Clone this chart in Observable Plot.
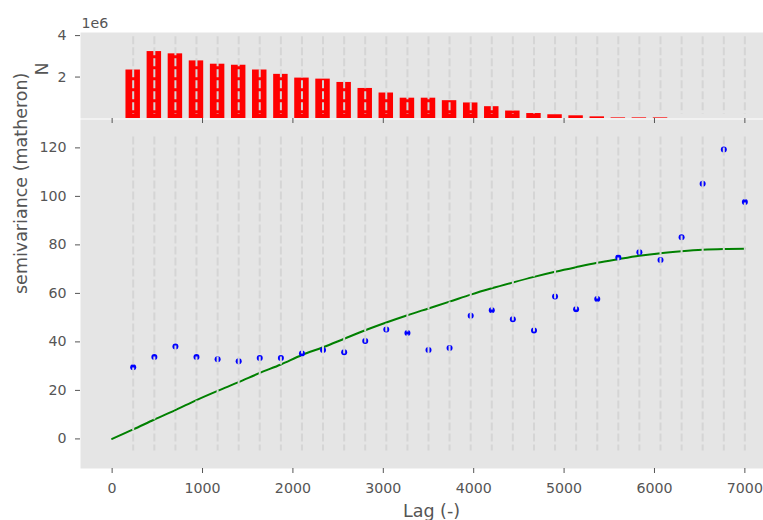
<!DOCTYPE html>
<html><head><meta charset="utf-8">
<script src="https://cdn.jsdelivr.net/npm/d3@7"></script>
<script src="https://cdn.jsdelivr.net/npm/@observablehq/plot@0.6"></script>
<style>
html,body{margin:0;padding:0;background:#fff;overflow:hidden;}
#wrap{position:relative;width:763px;height:520px;overflow:hidden;}
#wrap svg{position:absolute;left:0;overflow:visible;background:transparent;max-width:none !important;}
</style></head><body><div id="wrap"></div>
<script>
// lag class centres
const lags = [233,467,700,933,1167,1400,1633,1867,2100,2333,2567,2800,3033,3267,3500,3733,3967,4200,4433,4667,4900,5133,5367,5600,5833,6067,6300,6533,6767,7000];
// number of point pairs per lag class (in units of 1e6)
const pairCounts = [2.34,3.23,3.12,2.78,2.62,2.57,2.34,2.13,1.95,1.90,1.74,1.45,1.23,0.98,0.98,0.86,0.75,0.57,0.36,0.24,0.18,0.13,0.08,0.03,0.03,0.03,0,0,0,0];
// experimental semivariance (matheron)
const semivariance = [29.5,33.8,38.1,33.8,32.8,32.0,33.4,33.4,35.2,36.7,35.7,40.4,45.1,43.7,36.7,37.5,50.8,53.0,49.3,44.7,58.7,53.5,57.7,74.8,77.0,73.8,83.1,105.2,119.3,97.7];
// fitted model
const modelLags = [0,233,467,700,933,1167,1400,1633,1867,2100,2333,2567,2800,3033,3267,3500,3733,3967,4200,4433,4667,4900,5133,5367,5600,5833,6067,6300,6533,6767,7000];
const modelValues = [0,3.9,8.0,11.9,16.0,19.8,23.4,27.2,30.7,34.6,37.8,41.3,44.8,48.0,51.0,53.8,56.6,59.5,62.1,64.5,66.8,68.9,70.8,72.6,74.1,75.5,76.6,77.4,78.0,78.3,78.4];
// tick labels
const xTicks = [0,1000,2000,3000,4000,5000,6000,7000];
const yTicks = [0,20,40,60,80,100,120];
const nTicks = [2,4];

const bars = lags.map((lag, i) => ({lag, n: pairCounts[i]}));
const points = lags.map((lag, i) => ({lag, v: semivariance[i]}));
const model = modelLags.map((lag, i) => ({lag, v: modelValues[i]}));

const halfWidth = 80;
const font = {background: "transparent", color: "#555555", fontFamily: "DejaVu Sans", fontSize: "14.2px", maxWidth: "none"};
const gridColor = "#d5d5d5";
const xDomain = [-350, 7350];

const lower = Plot.plot({
  width: 776, height: 401,
  marginLeft: 80, marginRight: 0, marginTop: 0, marginBottom: 52,
  style: font,
  x: {domain: xDomain},
  y: {domain: [-12.2, 131.7]},
  marks: [
    Plot.frame({fill: "#e5e5e5", stroke: "none"}),
    Plot.line(model, {x: "lag", y: "v", stroke: "#008000", strokeWidth: 2, curve: "monotone-x"}),
    Plot.dot(points, {x: "lag", y: "v", r: 3, fill: "blue", stroke: "none"}),
    Plot.ruleX(lags, {stroke: gridColor, strokeWidth: 2, strokeDasharray: "8,3", insetTop: 17.4, insetBottom: 17.4}),
    Plot.axisX({ticks: xTicks, tickSize: 5, tickPadding: 9, label: null, tickFormat: d => String(d)}),
    Plot.axisY({ticks: yTicks, tickSize: 5, tickPadding: 9, label: null, tickFormat: d => String(d)}),
    Plot.text(["Lag (-)"], {frameAnchor: "bottom", lineAnchor: "middle", dy: 42.5, dx: 3, fontSize: 17.5, fill: "#555555"}),
    Plot.text(["semivariance (matheron)"], {frameAnchor: "left", rotate: -90, lineAnchor: "middle", dx: -59, fontSize: 17.5, fill: "#555555"})
  ]
});
lower.style.top = "119px";

const upper = Plot.plot({
  width: 776, height: 124,
  marginLeft: 80, marginRight: 0, marginTop: 32, marginBottom: 6,
  style: font,
  x: {domain: xDomain},
  y: {domain: [0, 4.15]},
  marks: [
    Plot.frame({fill: "#e5e5e5", stroke: "none"}),
    Plot.rectY(bars, {x1: d => d.lag - halfWidth, x2: d => d.lag + halfWidth, y: "n", fill: "red"}),
    Plot.ruleX(lags, {stroke: gridColor, strokeWidth: 2, strokeDasharray: "8,3", insetTop: 4.3, insetBottom: 4.3}),
    Plot.axisX({ticks: xTicks, tickSize: 5, tickFormat: () => "", label: null}),
    Plot.axisY({ticks: nTicks, tickSize: 5, tickPadding: 9, label: null, tickFormat: d => String(d)}),
    Plot.text(["1e6"], {frameAnchor: "top-left", textAnchor: "start", lineAnchor: "bottom", dy: -5, dx: 1, fill: "#555555"}),
    Plot.text(["N"], {frameAnchor: "left", rotate: -90, lineAnchor: "middle", dx: -38, fontSize: 17.5, fill: "#555555"})
  ]
});
upper.style.top = "0px";

const wrap = document.getElementById("wrap");
wrap.appendChild(lower);
wrap.appendChild(upper);
</script>
</body></html>
